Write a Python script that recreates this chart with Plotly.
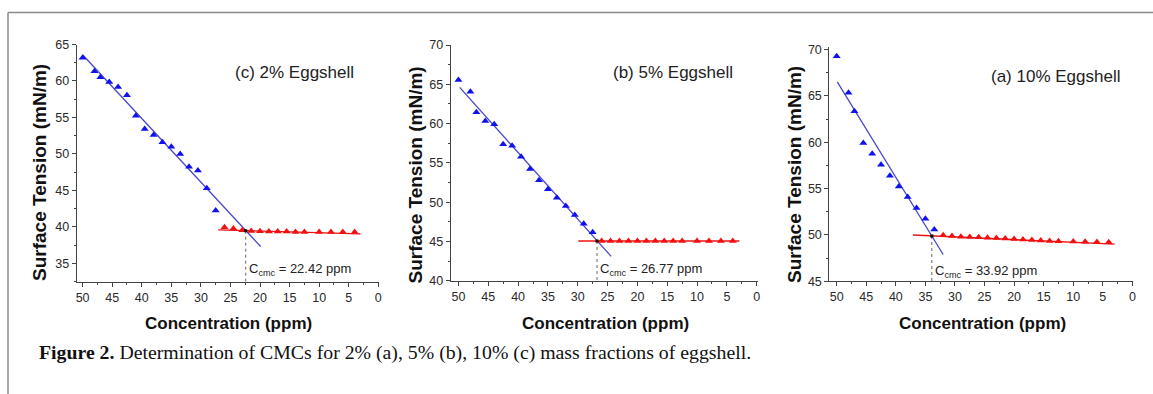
import plotly.graph_objects as go

W, H = 1153, 394

# ---------------- data ----------------
panel_titles = ["(c) 2% Eggshell", "(b) 5% Eggshell", "(a) 10% Eggshell"]
cmc_values = [22.42, 26.77, 33.92]
cmc_y = [39.47, 45.05, 49.88]
cmc_label_y = [34.2, 41.4, 46.05]

blue_x_2 = [50, 48, 47, 45.5, 44, 42.5, 41, 39.5, 38, 36.5, 35, 33.5, 32, 30.5, 29, 27.5]
blue_y_2 = [63.17, 61.34, 60.5, 59.87, 59.18, 58.04, 55.24, 53.41, 52.59, 51.58, 50.98, 49.97, 48.23, 47.73, 45.3, 42.23]
red_x_2 = [26, 24.5, 23, 21.5, 20, 18.5, 17, 15.5, 14, 12.5, 10, 8, 6, 4]
red_y_2 = [39.94, 39.76, 39.53, 39.44, 39.4, 39.35, 39.35, 39.35, 39.3, 39.3, 39.3, 39.3, 39.3, 39.3]
fit_blue_x_2 = [50, 19.9]
fit_blue_y_2 = [63.6, 37.3]
fit_red_x_2 = [27.05, 3]
fit_red_y_2 = [39.58, 39.03]

blue_x_5 = [50, 48, 47, 45.5, 44, 42.5, 41, 39.5, 38, 36.5, 35, 33.5, 32, 30.5, 29, 27.5]
blue_y_5 = [65.55, 64.06, 61.43, 60.33, 59.9, 57.36, 57.19, 55.79, 54.22, 52.77, 51.63, 50.57, 49.51, 48.36, 47.26, 46.16]
red_x_5 = [26, 24.5, 23, 21.5, 20, 18.5, 17, 15.5, 14, 12.5, 10, 8, 6, 4]
red_y_5 = [45.05, 45.05, 45.05, 45.05, 45.05, 45.05, 45.05, 45.05, 45.05, 45.05, 45.05, 45.05, 45.05, 45.05]
fit_blue_x_5 = [49.8, 24.4]
fit_blue_y_5 = [64.6, 43.1]
fit_red_x_5 = [29.9, 2.9]
fit_red_y_5 = [45.05, 45.05]

blue_x_10 = [50, 48, 47, 45.5, 44, 42.5, 41, 39.5, 38, 36.5, 35, 33.5]
blue_y_10 = [69.28, 65.32, 63.34, 59.91, 58.76, 57.57, 56.38, 55.23, 54.08, 52.89, 51.74, 50.58]
red_x_10 = [32, 30.5, 29, 27.5, 26, 24.5, 23, 21.5, 20, 18.5, 17, 15.5, 14, 12.5, 10, 8, 6, 4]
red_y_10 = [49.95, 49.87, 49.8, 49.78, 49.75, 49.7, 49.65, 49.6, 49.55, 49.5, 49.45, 49.4, 49.35, 49.32, 49.28, 49.25, 49.22, 49.2]
fit_blue_x_10 = [49.9, 32.0]
fit_blue_y_10 = [66.5, 47.88]
fit_red_x_10 = [37.1, 3]
fit_red_y_10 = [49.98, 49.0]

x_tick_vals = [50, 45, 40, 35, 30, 25, 20, 15, 10, 5, 0]
y_ranges = [[32.47, 65], [40, 70], [45, 70.3]]
x_ranges = [[51.0, -0.17], [51.3, -0.27], [51.25, -0.1]]

# ---------------- layout geometry (pixels) ----------------
x_px = [(76.7, 379.3), (450.7, 758.3), (829.3, 1133.0)]
y_px = [(44.5, 281.7), (45.0, 280.7), (46.7, 281.2)]
ytitle_px = [(39, 173), (415.5, 175), (795, 175)]
xtitle_px = [(228.5, 323), (605, 323), (982, 323)]
ptitle_px = [(294, 73), (673, 73), (1055, 77)]

SANS = "Arial, Liberation Sans, sans-serif"
BLUE_M = "#1010f0"
BLUE_L = "#4848c8"
RED = "#f01010"
AX = "#444444"

panels = [
    (blue_x_2, blue_y_2, red_x_2, red_y_2, fit_blue_x_2, fit_blue_y_2, fit_red_x_2, fit_red_y_2),
    (blue_x_5, blue_y_5, red_x_5, red_y_5, fit_blue_x_5, fit_blue_y_5, fit_red_x_5, fit_red_y_5),
    (blue_x_10, blue_y_10, red_x_10, red_y_10, fit_blue_x_10, fit_blue_y_10, fit_red_x_10, fit_red_y_10),
]

fig = go.Figure()
annotations = []
layout_axes = {}

for i, (bx, by, rx, ry, fbx, fby, frx, fry) in enumerate(panels):
    sfx = "" if i == 0 else str(i + 1)
    xa, ya = "x" + sfx, "y" + sfx
    # fit lines
    fig.add_trace(go.Scatter(x=fbx, y=fby, mode="lines", xaxis=xa, yaxis=ya,
                             line=dict(color=BLUE_L, width=1.3), showlegend=False, hoverinfo="skip"))
    fig.add_trace(go.Scatter(x=frx, y=fry, mode="lines", xaxis=xa, yaxis=ya,
                             line=dict(color=RED, width=1.4), showlegend=False, hoverinfo="skip"))
    # data points
    fig.add_trace(go.Scatter(x=bx, y=by, mode="markers", xaxis=xa, yaxis=ya,
                             marker=dict(symbol="triangle-up", size=7, color=BLUE_M), showlegend=False))
    fig.add_trace(go.Scatter(x=rx, y=ry, mode="markers", xaxis=xa, yaxis=ya,
                             marker=dict(symbol="triangle-up", size=7, color=RED), showlegend=False))
    # dotted cmc line
    fig.add_trace(go.Scatter(x=[cmc_values[i], cmc_values[i]], y=[cmc_y[i], y_ranges[i][0]],
                             mode="lines", xaxis=xa, yaxis=ya,
                             line=dict(color="#666666", width=1, dash="dot"), showlegend=False, hoverinfo="skip"))
    fig.add_trace(go.Scatter(x=[cmc_values[i]], y=[cmc_y[i]], mode="markers", xaxis=xa, yaxis=ya,
                             marker=dict(symbol="square", size=3, color="black"), showlegend=False))

    x0, x1 = x_px[i]
    yt, yb = y_px[i]
    layout_axes["xaxis" + sfx] = dict(
        domain=[x0 / W, x1 / W], range=x_ranges[i], anchor=ya, automargin=False,
        showline=True, linecolor=AX, linewidth=1, mirror=False,
        ticks="outside", ticklen=4, tickwidth=1, tickcolor=AX,
        tickvals=x_tick_vals, showgrid=False, zeroline=False,
        tickfont=dict(family=SANS, size=12.5, color="#2a2a2a"),
        minor=dict(ticks="outside", ticklen=2, dtick=2.5, tickcolor=AX, showgrid=False),
    )
    layout_axes["yaxis" + sfx] = dict(
        domain=[1 - yb / H, 1 - yt / H], range=y_ranges[i], anchor=xa, automargin=False,
        showline=True, linecolor=AX, linewidth=1, mirror=False,
        ticks="outside", ticklen=4, tickwidth=1, tickcolor=AX,
        dtick=5, showgrid=False, zeroline=False,
        tickfont=dict(family=SANS, size=12.5, color="#2a2a2a"),
        minor=dict(ticks="outside", ticklen=2, dtick=2.5, tickcolor=AX, showgrid=False),
    )

    # Ccmc label
    annotations.append(dict(
        x=cmc_values[i], y=cmc_label_y[i], xref=xa, yref=ya,
        text="C<sub>cmc</sub> = %.2f ppm" % cmc_values[i], showarrow=False,
        xanchor="left", yanchor="middle", xshift=1,
        font=dict(family=SANS, size=13, color="#222222")))
    # panel title
    annotations.append(dict(
        x=ptitle_px[i][0] / W, y=1 - ptitle_px[i][1] / H, xref="paper", yref="paper",
        text=panel_titles[i], showarrow=False, xanchor="center", yanchor="middle",
        font=dict(family=SANS, size=17, color="#222222")))
    # axis titles
    annotations.append(dict(
        x=ytitle_px[i][0] / W, y=1 - ytitle_px[i][1] / H, xref="paper", yref="paper",
        text="<b>Surface Tension (mN/m)</b>", showarrow=False, textangle=-90,
        xanchor="center", yanchor="middle",
        font=dict(family=SANS, size=19, color="#111111")))
    annotations.append(dict(
        x=xtitle_px[i][0] / W, y=1 - xtitle_px[i][1] / H, xref="paper", yref="paper",
        text="<b>Concentration (ppm)</b>", showarrow=False,
        xanchor="center", yanchor="middle",
        font=dict(family=SANS, size=17, color="#111111")))

# caption
annotations.append(dict(
    x=37 / W, y=1 - 352 / H, xref="paper", yref="paper",
    text="<b>Figure 2.</b> Determination of CMCs for 2% (a), 5% (b), 10% (c) mass fractions of eggshell.",
    showarrow=False, xanchor="left", yanchor="middle",
    font=dict(family="Liberation Serif, Times New Roman, serif", size=19.8, color="#111111")))

shapes = [
    dict(type="line", xref="paper", yref="paper", x0=8 / W, x1=1, y0=1 - 12.5 / H, y1=1 - 12.5 / H,
         line=dict(color="#8a8a8a", width=1.5)),
    dict(type="line", xref="paper", yref="paper", x0=8 / W, x1=8 / W, y0=0, y1=1 - 12.5 / H,
         line=dict(color="#8a8a8a", width=1.5)),
]

fig.update_layout(
    width=W, height=H, margin=dict(l=0, r=0, t=0, b=0, autoexpand=False),
    paper_bgcolor="white", plot_bgcolor="white",
    showlegend=False, annotations=annotations, shapes=shapes,
    **layout_axes,
)

fig.write_html(
    "out.html",
    config={"displayModeBar": False, "staticPlot": True},
    post_script="document.body.style.margin='0';document.body.style.overflow='hidden';",
)
